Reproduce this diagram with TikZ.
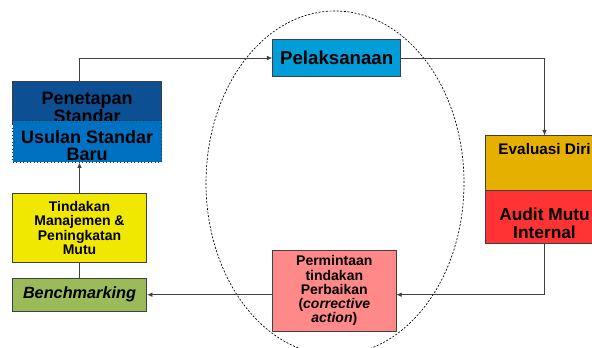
\documentclass[tikz,border=0pt]{standalone}
\usepackage{fontspec}
\setmainfont{Liberation Sans}
\usepackage{tikz}
\usetikzlibrary{arrows.meta,calc,positioning}
\definecolor{penetapanblue}{RGB}{13,79,147}
\definecolor{usulanblue}{RGB}{0,112,192}
\definecolor{pelakblue}{RGB}{0,157,217}
\definecolor{tindakanyellow}{RGB}{240,232,0}
\definecolor{benchgreen}{RGB}{155,187,89}
\definecolor{evalgold}{RGB}{230,176,0}
\definecolor{auditred}{RGB}{255,51,51}
\definecolor{permpink}{RGB}{255,136,136}

\begin{document}
\begin{tikzpicture}[x=0.75pt,y=-0.75pt,
  box/.style={draw=black!75,line width=0.6pt,align=center,inner sep=1pt},
  conn/.style={draw=black!75,line width=0.6pt,-{Latex[length=4pt,width=3.5pt]}},
  link/.style={draw=black!75,line width=0.6pt}]
\clip (0,0) rectangle (592,348);
% siklus
\draw[line width=0.5pt,dash pattern=on 1.5pt off 1.2pt] (335,183) ellipse [x radius=96.75pt,y radius=129pt];
% kiri
\node[box,fill=penetapanblue,minimum width=111.75pt,minimum height=29.25pt,font=\bfseries\fontsize{13.5}{13.75}\selectfont] (penetapan) at (87.2,102.8) {\rule{0pt}{16pt}Penetapan\\Standar};
\node[box,draw=black!80,dotted,fill=usulanblue,minimum width=111.75pt,minimum height=28.8pt,font=\bfseries\fontsize{13.5}{13}\selectfont] (usulan) at (87.2,141.5) {\rule{0pt}{16pt}Usulan Standar\\Baru};
\node[box,fill=tindakanyellow,minimum width=100.8pt,minimum height=52pt,font=\bfseries\fontsize{10.5}{10.75}\selectfont] (tindakan) at (79.5,228) {Tindakan\\Manajemen \&\\Peningkatan\\Mutu};
\node[box,fill=benchgreen,minimum width=100.8pt,minimum height=24.5pt,font=\bfseries\itshape\fontsize{12.2}{13}\selectfont] (bench) at (79.5,294.7) {Benchmarking};
% tengah
\node[box,fill=pelakblue,minimum width=96pt,minimum height=28pt,font=\bfseries\fontsize{14}{14}\selectfont] (pelak) at (336.7,58) {Pelaksanaan};
\node[box,fill=permpink,minimum width=92.5pt,minimum height=61.3pt,font=\bfseries\fontsize{10.5}{10.7}\selectfont] (perm) at (334.3,290.8) {Permintaan\\tindakan\\Perbaikan\\(\textit{corrective}\\\textit{action})};
% kanan
\node[box,fill=evalgold,minimum width=88.2pt,minimum height=41.25pt] (eval) at (544.5,163.2) {};
\node[below=5.7pt of eval.north,inner sep=0pt,font=\bfseries\fontsize{11.5}{12}\selectfont] (evaltext) {Evaluasi Diri};
\node[box,fill=auditred,minimum width=88.2pt,minimum height=39.5pt,font=\bfseries\fontsize{13}{13.75}\selectfont] (audit) at (544.5,217) {\rule{0pt}{19pt}Audit Mutu\\Internal};
% panah
\draw[conn] (penetapan.north -| tindakan.north) |- (pelak.west);
\draw[conn] (pelak.east) -| (eval.north);
\draw[conn] (audit.south) |- (perm.east |- bench.east);
\draw[conn] (perm.west |- bench.east) -- (bench.east);
\draw[link] (bench.north) -- (tindakan.south);
\draw[conn] (tindakan.north) -- (usulan.south -| tindakan.north);
\end{tikzpicture}
\end{document}
